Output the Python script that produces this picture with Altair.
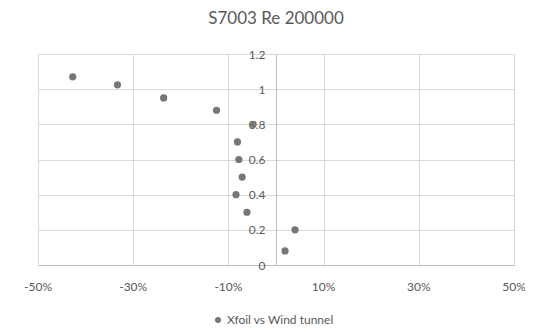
import altair as alt
import pandas as pd

title_text = "S7003 Re 200000"
series_name = "Xfoil vs Wind tunnel"
diff_pct = [-42.7, -33.3, -23.6, -12.5, -4.8, -8.1, -7.8, -7.1, -8.4, -6.1, 4.0, 1.9]
cl_vals = [1.07, 1.025, 0.95, 0.88, 0.80, 0.70, 0.60, 0.50, 0.40, 0.30, 0.20, 0.08]
x_ticks = [-0.5, -0.3, -0.1, 0.1, 0.3, 0.5]
x_tick_labels = ["-50%", "-30%", "-10%", "10%", "30%", "50%"]
y_ticks = [0, 0.2, 0.4, 0.6, 0.8, 1.0, 1.2]

df = pd.DataFrame({
    "diff": [v / 100 for v in diff_pct],
    "cl": cl_vals,
    "series": [series_name] * len(cl_vals),
})
ticks_df = pd.DataFrame({"t": x_ticks, "lab": x_tick_labels})

FONT = "Lato"
TXT = "#595959"
W, H = 476, 211

xscale = alt.Scale(domain=[-0.5, 0.5], nice=False, zero=False)

points = alt.Chart(df).mark_circle(size=52, opacity=1).encode(
    x=alt.X("diff:Q", scale=xscale,
            axis=alt.Axis(values=x_ticks, title=None, labels=False,
                          grid=True, gridColor="#d9d9d9", domainColor="#bfbfbf",
                          ticks=False)),
    y=alt.Y("cl:Q",
            scale=alt.Scale(domain=[0, 1.2], nice=False),
            axis=alt.Axis(values=y_ticks, format="~g", title=None,
                          grid=True, gridColor="#d9d9d9", domainColor="#bfbfbf",
                          ticks=False, labelPadding=11, labelFontSize=12,
                          labelOverlap=False, labelFlush=False,
                          labelColor=TXT, labelFont=FONT, offset=-(W / 2))),
    color=alt.Color("series:N",
                    scale=alt.Scale(range=["#767676"]),
                    legend=alt.Legend(title=None, orient="none",
                                      legendX=174, legendY=260,
                                      symbolType="circle", symbolSize=36,
                                      labelFontSize=12, labelColor=TXT,
                                      labelFont=FONT, labelOffset=3)),
)

xlabels = alt.Chart(ticks_df).mark_text(
    font=FONT, fontSize=12, color=TXT, baseline="middle", align="center"
).encode(
    x=alt.X("t:Q", scale=xscale),
    y=alt.value(H + 22),
    text="lab:N",
)

chart = alt.layer(points, xlabels).properties(
    width=W, height=H,
    title=alt.TitleParams(title_text, fontSize=17, font=FONT, color=TXT,
                          fontWeight="normal", anchor="middle", offset=20, dx=0),
    autosize=alt.AutoSizeParams(type="none"),
    padding={"left": 30, "top": 46, "right": 11, "bottom": 61},
).configure_view(strokeWidth=0)

chart.save("out.html", embed_options={"renderer": "svg", "actions": False})
